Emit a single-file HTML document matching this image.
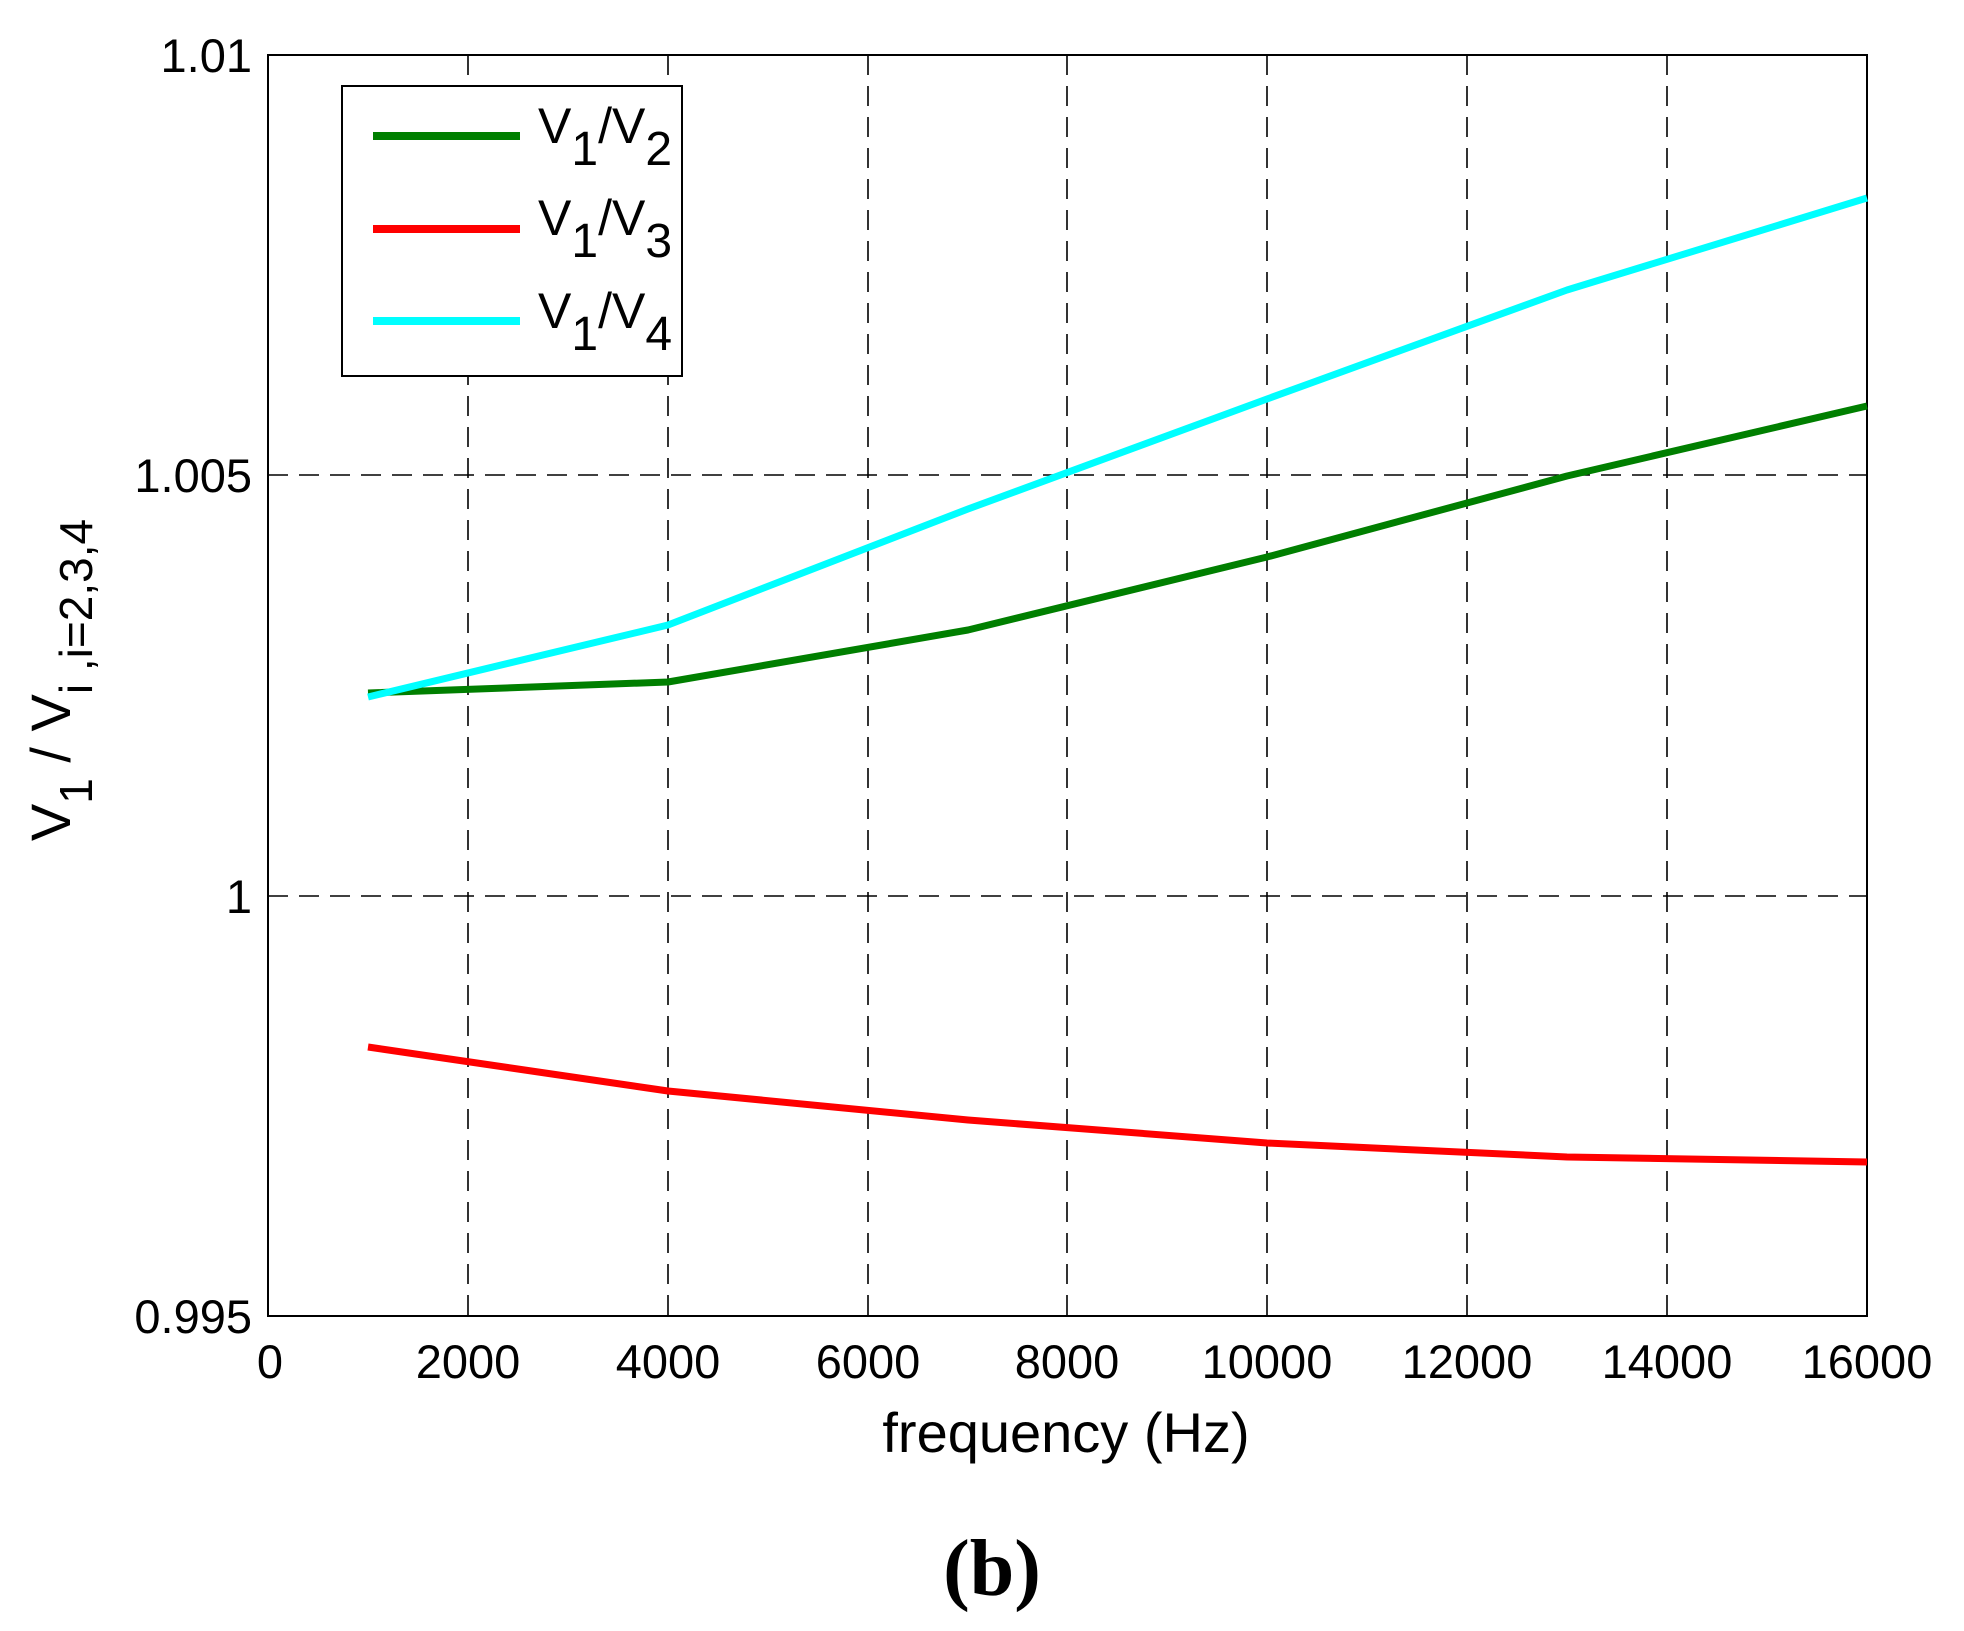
<!DOCTYPE html>
<html><head><style>body{margin:0;background:#fff}</style></head><body>
<svg width="1964" height="1626" xmlns="http://www.w3.org/2000/svg" font-family="Liberation Sans, Arial, sans-serif">
<rect width="1964" height="1626" fill="#fff"/>
<g stroke="#000" stroke-width="1.6" stroke-dasharray="20,11" fill="none">
<line x1="468" y1="55" x2="468" y2="1316"/><line x1="668" y1="55" x2="668" y2="1316"/>
<line x1="868" y1="55" x2="868" y2="1316"/><line x1="1067" y1="55" x2="1067" y2="1316"/>
<line x1="1267" y1="55" x2="1267" y2="1316"/><line x1="1467" y1="55" x2="1467" y2="1316"/>
<line x1="1667" y1="55" x2="1667" y2="1316"/>
<line x1="268" y1="475" x2="1867" y2="475"/><line x1="268" y1="896" x2="1867" y2="896"/>
</g>
<rect x="268" y="55" width="1599" height="1261" fill="none" stroke="#000" stroke-width="2"/>
<g fill="none" stroke-width="7" stroke-linejoin="round">
<polyline stroke="#007f00" points="368,693 668,682 968,630 1267,557 1567,476 1867,406"/>
<polyline stroke="#ff0000" points="368,1047 668,1091 968,1120 1267,1143 1567,1157 1867,1162"/>
<polyline stroke="#00ffff" points="368,697 668,625 968,509 1267,399 1567,290 1867,198"/>
</g>
<rect x="342" y="86" width="340" height="290" fill="#fff" stroke="#000" stroke-width="2"/>
<line x1="373" y1="136" x2="520" y2="136" stroke="#007f00" stroke-width="8"/>
<line x1="373" y1="229" x2="520" y2="229" stroke="#ff0000" stroke-width="8"/>
<line x1="373" y1="321" x2="520" y2="321" stroke="#00ffff" stroke-width="8"/>
<g font-size="50" fill="#000">
<text x="538" y="143">V<tspan font-size="48" dy="22">1</tspan><tspan dy="-22">/V</tspan><tspan font-size="48" dy="22">2</tspan></text>
<text x="538" y="235">V<tspan font-size="48" dy="22">1</tspan><tspan dy="-22">/V</tspan><tspan font-size="48" dy="22">3</tspan></text>
<text x="538" y="328">V<tspan font-size="48" dy="22">1</tspan><tspan dy="-22">/V</tspan><tspan font-size="48" dy="22">4</tspan></text>
</g>
<g font-size="47" fill="#000" text-anchor="end">
<text x="252" y="72">1.01</text><text x="252" y="492">1.005</text>
<text x="252" y="913">1</text><text x="252" y="1333">0.995</text>
</g>
<g font-size="47" fill="#000" text-anchor="middle">
<text x="270" y="1378">0</text><text x="468" y="1378">2000</text><text x="668" y="1378">4000</text>
<text x="868" y="1378">6000</text><text x="1067" y="1378">8000</text><text x="1267" y="1378">10000</text>
<text x="1467" y="1378">12000</text><text x="1667" y="1378">14000</text><text x="1867" y="1378">16000</text>
<text x="1066" y="1452" font-size="56">frequency (Hz)</text>
<text x="992" y="1595" font-size="80" font-weight="bold" font-family="Liberation Serif, serif">(b)</text>
</g>
<text transform="translate(70,680) rotate(-90)" font-size="56" text-anchor="middle" fill="#000">V<tspan font-size="46" dy="22">1</tspan><tspan dy="-22"> / V</tspan><tspan font-size="46" dy="22">i ,i=2,3,4</tspan></text>
</svg>
</body></html>
